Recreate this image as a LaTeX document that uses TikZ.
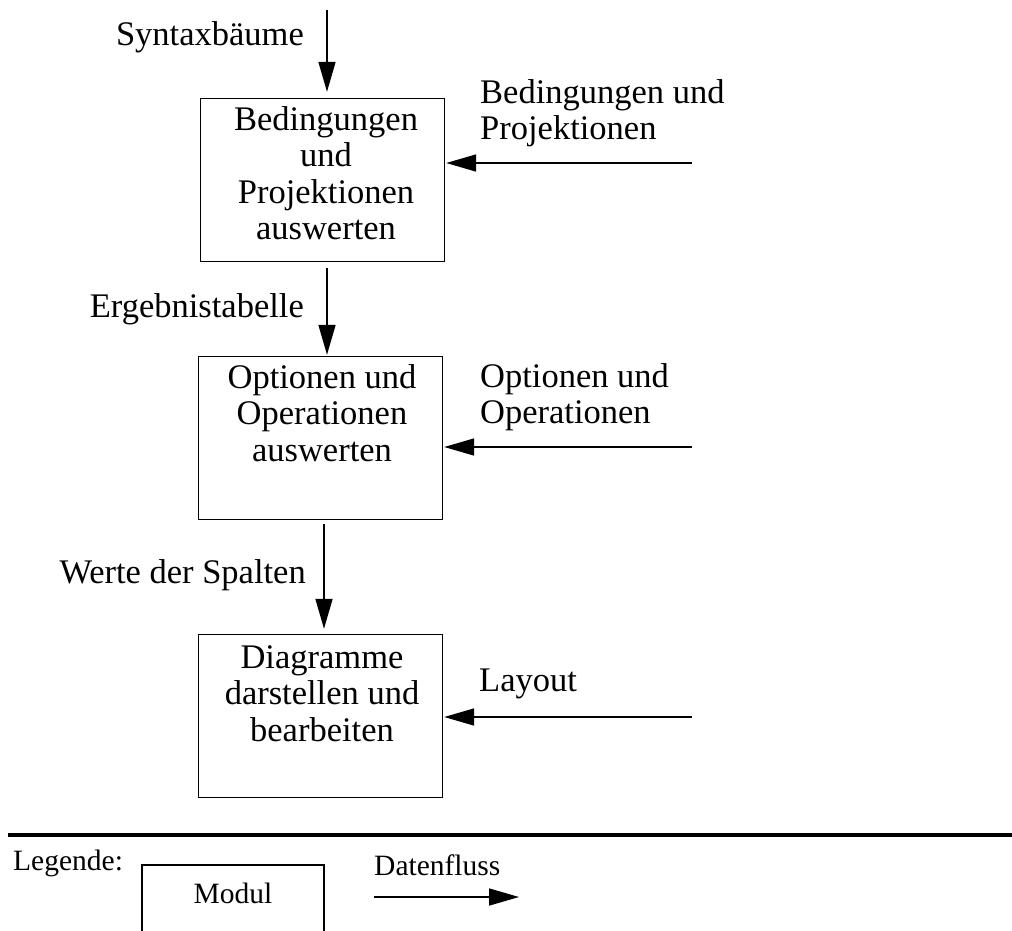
\documentclass[tikz,border=0pt]{standalone}
\usepackage{fontspec}
\setmainfont{Liberation Serif}
\usetikzlibrary{arrows.meta}
% lines of text whose reference point is the first baseline
\newcommand{\stackedlines}[1]{\begin{tabular}[t]{@{}c@{}}#1\end{tabular}}
\newcommand{\leftlines}[1]{\begin{tabular}[t]{@{}l@{}}#1\end{tabular}}
\begin{document}
\begin{tikzpicture}[x=1pt,y=-1pt,
  modbox/.style={draw, line width=1.4pt, minimum width=244pt, minimum height=163pt, inner sep=0pt},
  bigtext/.style={font=\fontsize{34.5}{36.5}\selectfont, inner sep=0pt},
  smalltext/.style={font=\fontsize{29.5}{31}\selectfont, inner sep=0pt},
  flow/.style={line width=1.6pt, -{Triangle[length=30pt,width=17pt]}},
]
\path[use as bounding box] (0,0) rectangle (1012,930);

% modules
\node[modbox] (b1) at (322.5,180) {};
\node[modbox] (b2) at (320.5,438) {};
\node[modbox] (b3) at (320.5,716) {};

\node[bigtext, anchor=base] (b1t) at (326,130)
  {\stackedlines{Bedingungen\\und\\Projektionen\\auswerten}};
\node[bigtext, anchor=base] (b2t) at (322,388)
  {\stackedlines{Optionen und\\Operationen\\auswerten}};
\node[bigtext, anchor=base] (b3t) at (322,668)
  {\stackedlines{Diagramme\\darstellen und\\bearbeiten}};

% vertical data flow
\coordinate (src) at (327,10);
\coordinate (c12) at (327,0);
\coordinate (c23) at (324,0);
\draw[flow, shorten >=6pt] (src) -- (src |- b1.north);
\draw[flow, shorten <=6pt, shorten >=1pt] (c12 |- b1.south) -- (c12 |- b2.north);
\draw[flow, shorten <=4pt, shorten >=5pt] (c23 |- b2.south) -- (c23 |- b3.north);

\node[bigtext, anchor=base east] (l0) at (304,45) {Syntaxbäume};
\node[bigtext, anchor=base east] (l1) at (304,317) {Ergebnistabelle};
\node[bigtext, anchor=base east] (l2) at (306,583) {Werte der Spalten};

% inputs from the right
\coordinate (in1) at (692,163);
\coordinate (in2) at (692,447);
\coordinate (in3) at (692,717);
\draw[flow, shorten >=1pt] (in1) -- (in1 -| b1.east);
\draw[flow, shorten >=1pt] (in2) -- (in2 -| b2.east);
\draw[flow, shorten >=1pt] (in3) -- (in3 -| b3.east);

\node[bigtext, anchor=base west] (r1) at (480,103)
  {\leftlines{Bedingungen und\\Projektionen}};
\node[bigtext, anchor=base west] (r2) at (480,387)
  {\leftlines{Optionen und\\Operationen}};
\node[bigtext, anchor=base west] (r3) at (479,691) {Layout};

% legend
\draw[line width=3.2pt] (8,835) -- (1013,835);
\node[smalltext, anchor=base west] (leg) at (13,870) {Legende:};
\draw[line width=1.4pt] (142,940) -- (142,865) -- (324,865) -- (324,940);
\node[smalltext, anchor=base] (modul) at (233,903) {Modul};
\node[smalltext, anchor=base west] (dfl) at (374,875) {Datenfluss};
\coordinate (lf0) at (374,897);
\coordinate (lf1) at (519,897);
\draw[flow] (lf0) -- (lf1);
\end{tikzpicture}
\end{document}
